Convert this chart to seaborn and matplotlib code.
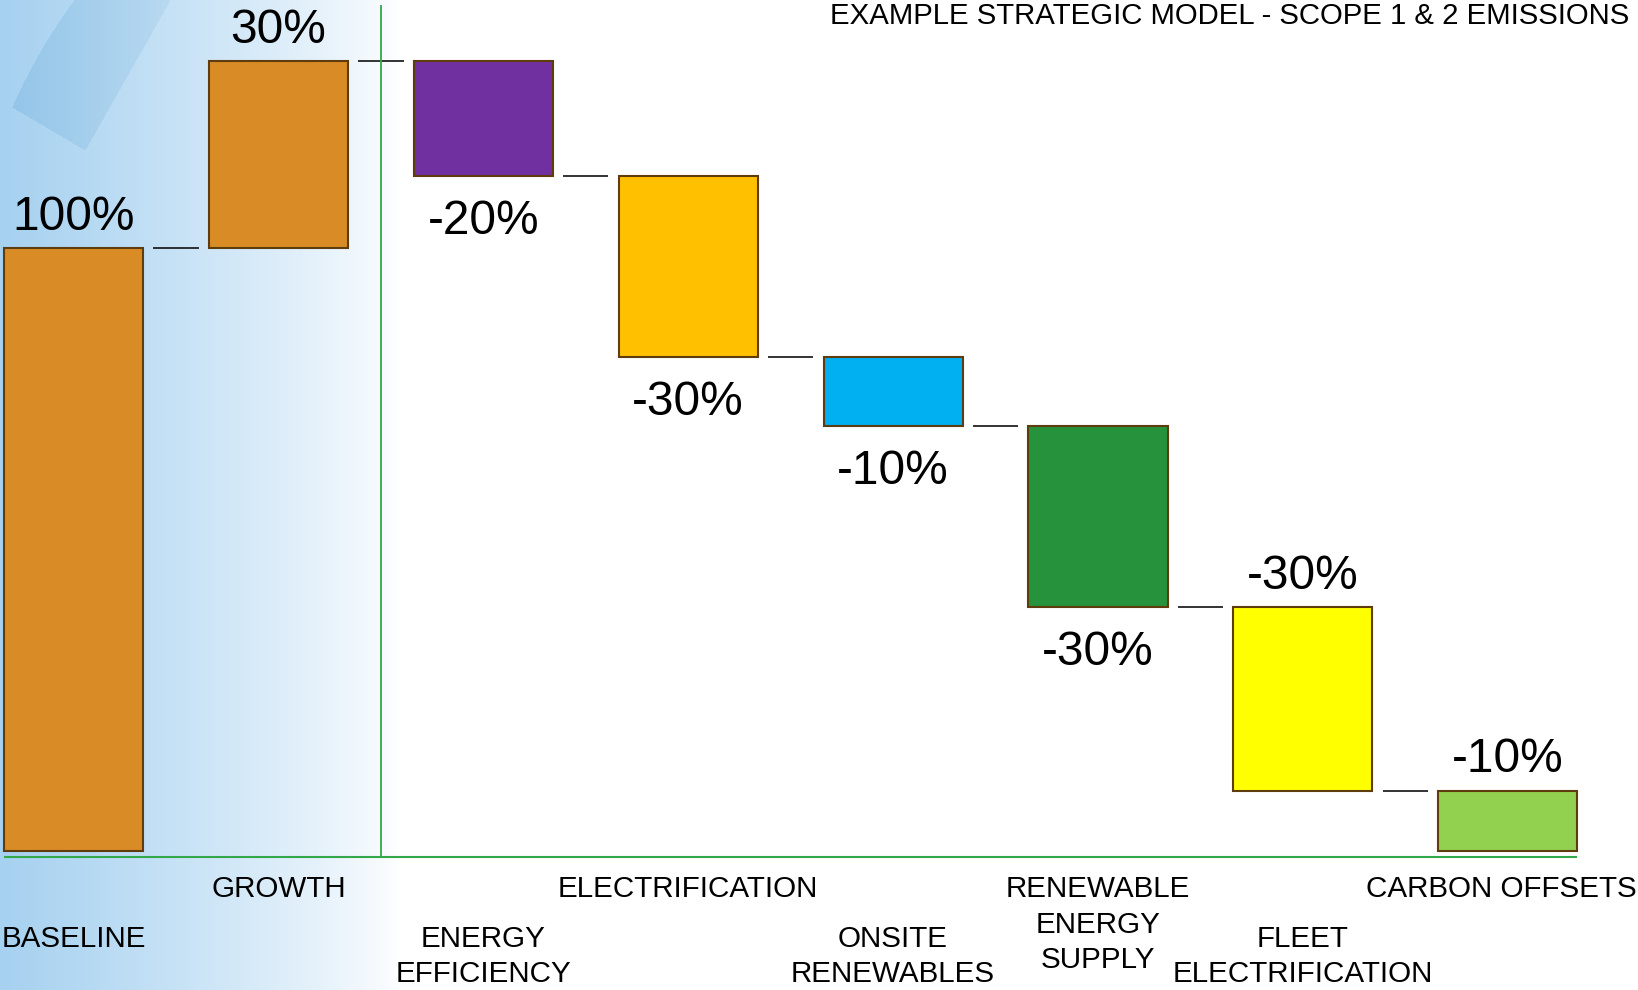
import numpy as np
import pandas as pd
import seaborn as sns
import matplotlib.pyplot as plt

# ---- data ----
categories = ["BASELINE", "GROWTH", "ENERGY\nEFFICIENCY", "ELECTRIFICATION",
              "ONSITE\nRENEWABLES", "RENEWABLE\nENERGY\nSUPPLY",
              "FLEET\nELECTRIFICATION", "CARBON OFFSETS"]
changes = [100, 31, -19, -30, -11.5, -30, -30.5, -10]
value_labels = ["100%", "30%", "-20%", "-30%", "-10%", "-30%", "-30%", "-10%"]
bar_colors = ["#D98B26", "#D98B26", "#7030A0", "#FFC000",
              "#00B0F0", "#26923C", "#FFFF00", "#92D050"]
label_above = [True, True, False, False, False, False, True, True]
title = "EXAMPLE STRATEGIC MODEL - SCOPE 1 & 2 EMISSIONS"

# waterfall: each bar floats between running totals
ends = np.cumsum(changes)
starts = np.concatenate([[0], ends[:-1]])
lows = np.minimum(starts, ends)
highs = np.maximum(starts, ends)
df = pd.DataFrame({"step": categories, "size": np.abs(changes)})

sns.set_theme(style="white")
plt.rcParams["font.family"] = ["Liberation Sans", "DejaVu Sans"]

fig = plt.figure(figsize=(16.38, 9.9), dpi=100)

# soft blue backdrop on the left
H, W = 990, 1638
yy, xx = np.mgrid[0:H, 0:W]
fade = np.clip(1 - xx / 400.0, 0, 1) ** 0.8
base = np.array([166, 209, 240]) / 255
img = 1 - fade[..., None] * (1 - base)
band = ((np.hypot(xx - 520, yy - 330) < 555)
        & (xx < 170 - 0.567 * yy)
        & (yy < 100 + 0.59 * xx))
img[band] -= fade[band][:, None] * np.array([0.08, 0.05, 0.03])
bg = fig.add_axes([0, 0, 1, 1], zorder=0)
bg.imshow(np.clip(img, 0, 1), extent=(0, W, H, 0), aspect="auto")
bg.set_axis_off()

ax = fig.add_axes([0, 0, 1, 1], zorder=1)
ax.patch.set_alpha(0)

bar_w = 0.679
sns.barplot(data=df, x="step", y="size", order=categories, bottom=lows,
            width=bar_w, color=bar_colors[0], saturation=1, errorbar=None,
            edgecolor="#5E3C0E", linewidth=1.5, ax=ax, zorder=3)
for patch, c in zip(ax.patches, bar_colors):
    patch.set_facecolor(c)

ax.set_xlim(-0.3595, 7.636)
ax.set_ylim(-23.1, 141.2)
ax.set_axis_off()

# connectors between bars
for i in range(len(categories) - 1):
    ax.hlines(ends[i], i + bar_w / 2 + 0.05, i + 1 - bar_w / 2 - 0.05,
              color="#111111", lw=1.2, zorder=2)

# green axis lines
ax.hlines(-0.98, -0.34, 7.336, color="#33A84A", lw=1.5, zorder=2)
ax.vlines(1.5, -0.98, 140.4, color="#33A84A", lw=1.3, zorder=2)

# value labels
for i, lab in enumerate(value_labels):
    if label_above[i]:
        y = highs[i] + 3.0
    else:
        y = lows[i] - 9.7
    ax.text(i, y, lab, ha="center", va="baseline", fontsize=34.4, color="black")

# staggered category labels
cat_texts = []
for i, cat in enumerate(categories):
    y0 = -7.74 if i % 2 == 1 else -16.0
    for k, line in enumerate(cat.split("\n")):
        t = ax.text(i, y0 - k * 5.85, line, ha="center", va="baseline",
                    fontsize=21.3, color="black")
        cat_texts.append((i, t))

# keep edge labels inside the canvas
fig.canvas.draw()
renderer = fig.canvas.get_renderer()
for i, t in cat_texts:
    bb = t.get_window_extent(renderer)
    over = bb.x1 - (W - 1)
    if over > 0:
        x_disp = ax.transData.transform((i, 0))[0] - over
        t.set_x(ax.transData.inverted().transform((x_disp, 0))[0])

fig.text(0.9949, 0.998, title, ha="right", va="top", fontsize=21.2, color="black")

fig.savefig("out.png", dpi=100)
